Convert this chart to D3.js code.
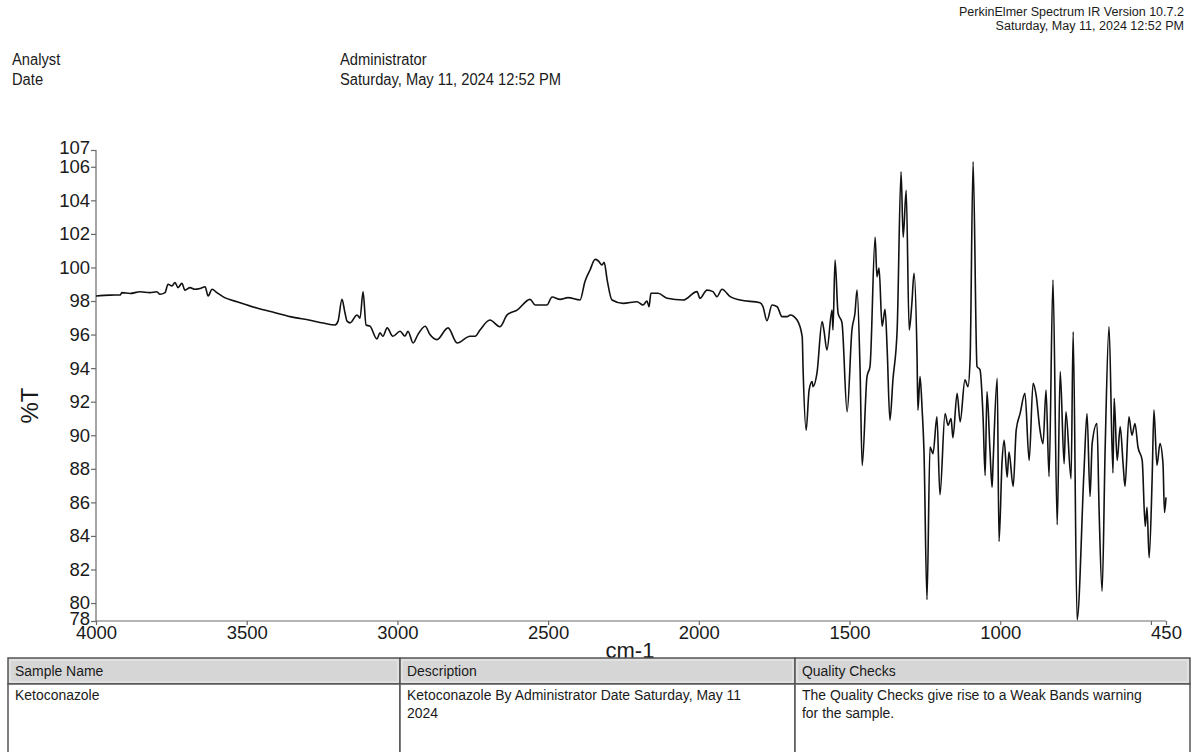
<!DOCTYPE html>
<html>
<head>
<meta charset="utf-8">
<script src="https://cdn.jsdelivr.net/npm/d3@7"></script>
<style>
  body { margin: 0; background: #fff; }
  svg { display: block; }
  text { font-family: "Liberation Sans", Arial, sans-serif; fill: #1a1a1a; }
</style>
</head>
<body>
<svg id="chart" width="1193" height="752"></svg>
<script>
// IR spectrum of ketoconazole: wavenumber (cm-1) and transmittance (%T)
const wavenumbers = [
  4000, 3954, 3920, 3914, 3887, 3854, 3821, 3798, 3788, 3771, 3761, 3748, 3738, 3728, 3715, 3705,
  3688, 3672, 3655, 3638, 3628, 3615, 3599, 3579, 3522, 3466, 3406, 3356, 3290, 3247, 3207, 3197,
  3184, 3174, 3167, 3157, 3134, 3124, 3114, 3104, 3091, 3068, 3058, 3048, 3034, 3015, 2991, 2975,
  2965, 2948, 2932, 2908, 2892, 2869, 2832, 2802, 2759, 2742, 2726, 2693, 2660, 2636, 2603, 2560,
  2543, 2504, 2487, 2460, 2434, 2394, 2378, 2361, 2344, 2334, 2321, 2314, 2304, 2288, 2251, 2205,
  2185, 2172, 2165, 2159, 2135, 2105, 2052, 2006, 1996, 1973, 1953, 1940, 1923, 1896, 1863, 1797,
  1787, 1774, 1757, 1740, 1724, 1707, 1697, 1674, 1657, 1654, 1644, 1634, 1624, 1621, 1608, 1591,
  1585, 1575, 1558, 1555, 1548, 1538, 1525, 1508, 1492, 1482, 1475, 1465, 1458, 1442, 1432, 1415,
  1409, 1402, 1392, 1382, 1375, 1366, 1356, 1342, 1329, 1322, 1312, 1302, 1293, 1286, 1276, 1273,
  1266, 1259, 1253, 1243, 1233, 1223, 1210, 1200, 1183, 1173, 1163, 1157, 1143, 1133, 1117, 1107,
  1100, 1090, 1077, 1067, 1057, 1050, 1044, 1034, 1027, 1024, 1010, 1004, 994, 987, 977, 971,
  957, 947, 934, 918, 904, 891, 881, 868, 858, 848, 838, 825, 811, 801, 788, 782,
  765, 758, 745, 722, 712, 702, 695, 679, 672, 662, 652, 639, 626, 622, 612, 602,
  592, 586, 573, 563, 553, 543, 529, 519, 513, 506, 496, 490, 480, 470, 460, 455, 450
];
const transmittance = [
  98.30, 98.35, 98.36, 98.50, 98.45, 98.55, 98.50, 98.55, 98.40, 98.50, 99.00, 98.90, 99.10, 98.80, 99.05, 98.65,
  98.80, 98.70, 98.75, 98.85, 98.30, 98.70, 98.50, 98.26, 97.90, 97.58, 97.30, 97.07, 96.85, 96.69, 96.57, 96.80,
  98.10, 97.30, 96.80, 96.70, 97.17, 96.98, 98.55, 96.57, 96.50, 95.74, 96.10, 95.90, 96.40, 95.90, 96.20, 95.90,
  96.20, 95.50, 96.00, 96.50, 96.00, 95.70, 96.40, 95.50, 95.90, 95.90, 96.27, 96.87, 96.47, 97.17, 97.46, 98.10,
  97.76, 97.76, 98.24, 98.10, 98.20, 98.06, 99.15, 99.85, 100.48, 100.40, 100.15, 100.30, 99.25, 98.06, 97.86, 97.96,
  97.76, 98.00, 97.66, 98.46, 98.46, 98.16, 98.06, 98.56, 98.16, 98.65, 98.56, 98.26, 98.70, 98.26, 98.06, 97.90,
  97.66, 96.83, 97.76, 97.66, 97.07, 97.07, 97.17, 96.87, 95.88, 93.90, 90.30, 92.70, 93.20, 92.90, 93.70, 96.77,
  96.27, 95.08, 97.46, 96.27, 100.44, 97.27, 96.70, 91.40, 96.27, 97.27, 98.65, 93.90, 88.20, 93.50, 94.10, 101.80,
  99.45, 99.96, 96.50, 97.50, 95.08, 90.90, 93.30, 96.27, 105.70, 101.80, 104.60, 96.27, 97.90, 99.65, 94.70, 91.50,
  93.50, 91.50, 89.10, 80.20, 89.30, 88.90, 91.10, 86.45, 91.30, 90.60, 91.00, 89.85, 92.50, 90.80, 93.30, 92.90,
  94.50, 106.30, 94.10, 93.90, 91.10, 87.60, 92.60, 89.10, 86.90, 88.20, 93.40, 83.67, 88.40, 89.70, 87.50, 89.00,
  86.95, 90.30, 91.30, 92.50, 88.50, 93.10, 92.40, 90.30, 89.50, 92.70, 87.54, 99.25, 84.67, 93.80, 88.30, 91.40,
  87.40, 96.17, 79.00, 87.90, 91.30, 86.35, 89.50, 90.70, 85.56, 80.70, 89.10, 96.47, 87.75, 92.20, 88.50, 90.50,
  88.20, 86.95, 91.10, 90.00, 90.70, 89.30, 88.50, 84.57, 85.70, 82.70, 87.40, 91.50, 88.20, 89.50, 88.30, 85.40, 86.30
];

// Axis ticks and their printed labels (the ends of each axis carry rounded values)
const xTickValues = [4000, 3500, 3000, 2500, 2000, 1500, 1000, 500, 450];
const xTickLabels = ["4000", "3500", "3000", "2500", "2000", "1500", "1000", "", "450"];
const yTickValues = [78.93, 80, 82, 84, 86, 88, 90, 92, 94, 96, 98, 100, 102, 104, 106, 107];
const yTickLabels = ["78", "80", "82", "84", "86", "88", "90", "92", "94", "96", "98", "100", "102", "104", "106", "107"];

// Report header and footer table text
const softwareLines = ["PerkinElmer Spectrum IR Version 10.7.2", "Saturday, May 11, 2024 12:52 PM"];
const headerLabels = ["Analyst", "Date"];
const headerValues = ["Administrator", "Saturday, May 11, 2024 12:52 PM"];
const tableColumns = ["Sample Name", "Description", "Quality Checks"];
const tableCells = [
  ["Ketoconazole"],
  ["Ketoconazole By Administrator Date Saturday, May 11", "2024"],
  ["The Quality Checks give rise to a Weak Bands warning", "for the sample."]
];

const svg = d3.select("#chart");
const plot = { left: 96, right: 1166, top: 150, bottom: 621 };

const x = d3.scaleLinear().domain([4000, 450]).range([plot.left, plot.right]);
const y = d3.scaleLinear().domain([78.93, 107]).range([plot.bottom, plot.top]);

// Condensed report lettering: regular face squeezed horizontally
function narrowText(sel, xPos, yPos, size, squeeze) {
  sel.attr("transform", (d, i) => `translate(${xPos(d, i)},${yPos(d, i)}) scale(${squeeze},1)`)
    .attr("font-size", size)
    .text(d => d);
}

// --- report header ---
svg.selectAll("text.sw").data(softwareLines).join("text")
  .attr("class", "sw")
  .attr("text-anchor", "end")
  .call(narrowText, () => 1184, (d, i) => 16 + i * 14, 13.5, 0.93);

svg.selectAll("text.hl").data(headerLabels).join("text")
  .attr("class", "hl")
  .call(narrowText, () => 12, (d, i) => 65 + i * 20, 16, 0.92);

svg.selectAll("text.hv").data(headerValues).join("text")
  .attr("class", "hv")
  .call(narrowText, () => 340, (d, i) => 65 + i * 20, 16, 0.92);

// --- axes ---
const xAxis = d3.axisBottom(x)
  .tickValues(xTickValues)
  .tickSize(4)
  .tickFormat((d, i) => xTickLabels[i]);

const yAxis = d3.axisLeft(y)
  .tickValues(yTickValues)
  .tickSize(5)
  .tickFormat((d, i) => yTickLabels[i]);

const gx = svg.append("g")
  .attr("transform", `translate(0,${plot.bottom})`)
  .call(xAxis);
gx.select(".domain").attr("d", `M${plot.left},0H${plot.right}`);

const gy = svg.append("g")
  .attr("transform", `translate(${plot.left},0)`)
  .call(yAxis);
gy.select(".domain").attr("d", `M0,${plot.top}V${plot.bottom}`);

[gx, gy].forEach(g => {
  g.select(".domain").attr("stroke", "#6a6a6a").attr("stroke-width", 1.2);
  g.selectAll(".tick line").attr("stroke", "#6a6a6a").attr("stroke-width", 1.2);
  g.selectAll(".tick text")
    .attr("font-family", "'Liberation Sans', Arial, sans-serif")
    .attr("font-size", 18.5).attr("fill", "#1a1a1a");
});
gx.selectAll(".tick text").attr("y", 5).attr("dy", "0.71em");
gy.selectAll(".tick text").attr("x", -6);
// end labels sit slightly apart from their neighbours
gy.selectAll(".tick text").filter((d, i) => i === 0).attr("dy", "0.2em");
gy.selectAll(".tick text").filter((d, i) => i === yTickValues.length - 1).attr("dy", "0.2em");

svg.append("text")
  .attr("transform", `translate(38,${(plot.top + plot.bottom) / 2 + 20}) rotate(-90)`)
  .attr("text-anchor", "middle")
  .attr("font-size", 24)
  .text("%T");

svg.append("text")
  .attr("x", 630).attr("y", 658)
  .attr("text-anchor", "middle")
  .attr("font-size", 22)
  .text("cm-1");

// --- spectrum trace ---
const spectrum = wavenumbers.map((w, i) => ({ w, t: transmittance[i] }));
const line = d3.line()
  .x(d => x(d.w))
  .y(d => y(d.t))
  .curve(d3.curveMonotoneX);

svg.append("path")
  .datum(spectrum)
  .attr("fill", "none")
  .attr("stroke", "#111")
  .attr("stroke-width", 1.6)
  .attr("stroke-linejoin", "round")
  .attr("d", line);

// --- sample table ---
const colEdges = [8, 400, 795, 1190];
const headTop = 658, headBottom = 684, tableBottom = 760;
const table = svg.append("g");

table.selectAll("rect.head").data(tableColumns).join("rect")
  .attr("class", "head")
  .attr("x", (d, i) => colEdges[i]).attr("y", headTop)
  .attr("width", (d, i) => colEdges[i + 1] - colEdges[i])
  .attr("height", headBottom - headTop)
  .attr("fill", "#d6d6d6")
  .attr("stroke", "#555").attr("stroke-width", 1.5);

// light inner bevel on the header cells
table.selectAll("rect.bevel").data(tableColumns).join("rect")
  .attr("class", "bevel")
  .attr("x", (d, i) => colEdges[i] + 2).attr("y", headTop + 2)
  .attr("width", (d, i) => colEdges[i + 1] - colEdges[i] - 4)
  .attr("height", headBottom - headTop - 4)
  .attr("fill", "none")
  .attr("stroke", "#ececec").attr("stroke-width", 1);

table.selectAll("rect.cell").data(tableColumns).join("rect")
  .attr("class", "cell")
  .attr("x", (d, i) => colEdges[i]).attr("y", headBottom)
  .attr("width", (d, i) => colEdges[i + 1] - colEdges[i])
  .attr("height", tableBottom - headBottom)
  .attr("fill", "#fff")
  .attr("stroke", "#555").attr("stroke-width", 1.5);

table.selectAll("text.head").data(tableColumns).join("text")
  .attr("class", "head")
  .call(narrowText, (d, i) => colEdges[i] + 7, () => 676, 15, 0.93);

tableCells.forEach((lines, i) => {
  table.selectAll(null).data(lines).join("text")
    .call(narrowText, () => colEdges[i] + 7, (d, j) => 700 + j * 18, 15, 0.93);
});
</script>
</body>
</html>
